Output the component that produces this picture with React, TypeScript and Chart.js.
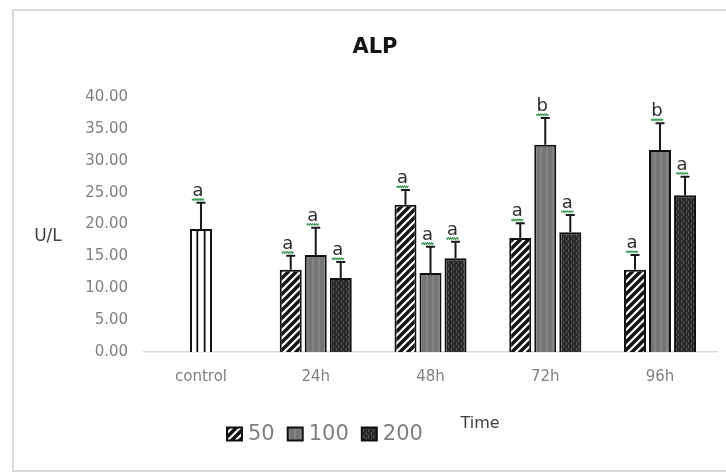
import React, { useEffect, useRef } from "react";
import { Chart, registerables } from "chart.js";

Chart.register(...registerables);

// Sampling times on the x axis
const categories = ["control", "24h", "48h", "72h", "96h"];
const seriesLabels = ["50", "100", "200"];

// ALP means (U/L) and standard deviations per dose group
const controlMean = [19.3, null, null, null, null];
const controlSd = [4.1, null, null, null, null];
const mean50 = [null, 12.9, 23.1, 17.9, 12.9];
const sd50 = [null, 2.2, 2.3, 2.3, 2.3];
const mean100 = [null, 15.2, 12.4, 32.5, 31.7];
const sd100 = [null, 4.3, 4.1, 4.2, 4.2];
const mean200 = [null, 11.6, 14.7, 18.8, 24.6];
const sd200 = [null, 2.5, 2.6, 2.7, 2.9];

// Significance letters above each bar
const controlLetters = ["a", "", "", "", ""];
const letters50 = ["", "a", "a", "a", "a"];
const letters100 = ["", "a", "a", "b", "b"];
const letters200 = ["", "a", "a", "a", "a"];

const yMin = 0;
const yMax = 40;
const yStep = 5;

const FONT = "'DejaVu Sans', sans-serif";

function makeTile(w: number, h: number, draw: (c: CanvasRenderingContext2D) => void): CanvasPattern {
  const cv = document.createElement("canvas");
  cv.width = w;
  cv.height = h;
  const c = cv.getContext("2d")!;
  draw(c);
  return c.createPattern(cv, "repeat")!;
}

function stripePattern() {
  return makeTile(8, 8, (c) => {
    c.fillStyle = "#ffffff";
    c.fillRect(0, 0, 8, 8);
    c.strokeStyle = "#111111";
    c.lineWidth = 3.4;
    c.beginPath();
    c.moveTo(-2, 10);
    c.lineTo(10, -2);
    c.moveTo(-2, 2);
    c.lineTo(2, -2);
    c.moveTo(6, 10);
    c.lineTo(10, 6);
    c.stroke();
  });
}

function greyPattern() {
  return makeTile(6, 4, (c) => {
    c.fillStyle = "#767676";
    c.fillRect(0, 0, 6, 4);
    c.fillStyle = "#848484";
    c.fillRect(0, 0, 2, 4);
  });
}

function darkPattern() {
  return makeTile(5, 6, (c) => {
    c.fillStyle = "#2a2a2a";
    c.fillRect(0, 0, 5, 6);
    c.fillStyle = "#525252";
    c.fillRect(1, 0, 1, 3);
    c.fillRect(3, 3, 1, 3);
  });
}

export default function App() {
  const ref = useRef<HTMLCanvasElement | null>(null);

  useEffect(() => {
    const canvas = ref.current;
    if (!canvas) return;

    const fill50 = stripePattern();
    const fill100 = greyPattern();
    const fill200 = darkPattern();

    const sds = [controlSd, sd50, sd100, sd200];
    const letterSets = [controlLetters, letters50, letters100, letters200];

    const decor = {
      id: "decor",
      beforeDraw(chart: any) {
        const ctx = chart.ctx;
        ctx.save();
        ctx.fillStyle = "#ffffff";
        ctx.fillRect(0, 0, chart.width, chart.height);
        ctx.strokeStyle = "#d9d9d9";
        ctx.lineWidth = 2;
        ctx.strokeRect(13, 10, chart.width + 20, 461);
        ctx.restore();
      },
      afterDatasetsDraw(chart: any) {
        const ctx = chart.ctx;
        const yScale = chart.scales.y;
        ctx.save();
        chart.data.datasets.forEach((ds: any, di: number) => {
          const meta = chart.getDatasetMeta(di);
          meta.data.forEach((el: any, j: number) => {
            const v = ds.data[j];
            if (v === null || v === undefined) return;
            const p = el.getProps(["x", "y", "base", "width"], true);
            // inner vertical rules of the control bar
            if (di === 0) {
              ctx.strokeStyle = "#111111";
              ctx.lineWidth = 1.8;
              ctx.beginPath();
              ctx.moveTo(p.x - p.width / 6, p.y);
              ctx.lineTo(p.x - p.width / 6, p.base);
              ctx.moveTo(p.x + p.width / 6, p.y);
              ctx.lineTo(p.x + p.width / 6, p.base);
              ctx.stroke();
            }
            const sd = sds[di][j];
            const top = yScale.getPixelForValue(v + (sd || 0));
            ctx.strokeStyle = "#1a1a1a";
            ctx.lineWidth = 2;
            ctx.beginPath();
            ctx.moveTo(p.x, p.y);
            ctx.lineTo(p.x, top);
            ctx.moveTo(p.x - 4.5, top);
            ctx.lineTo(p.x + 4.5, top);
            ctx.stroke();
            const letter = letterSets[di][j];
            if (letter) {
              const lx = p.x - 3;
              const base = top - 7;
              ctx.fillStyle = "#2e2e2e";
              ctx.font = `18px ${FONT}`;
              ctx.textAlign = "center";
              ctx.textBaseline = "alphabetic";
              ctx.fillText(letter, lx, base);
              // green wavy underline
              ctx.strokeStyle = "#3f9a57";
              ctx.lineWidth = 1.2;
              ctx.beginPath();
              for (let k = 0; k <= 12; k++) {
                const xx = lx - 6 + k;
                const yy = base + 3 + (k % 2 === 0 ? 0 : 1.4);
                if (k === 0) ctx.moveTo(xx, yy);
                else ctx.lineTo(xx, yy);
              }
              ctx.stroke();
            }
          });
        });
        ctx.restore();
      },
      afterDraw(chart: any) {
        const ctx = chart.ctx;
        ctx.save();
        // title
        ctx.fillStyle = "#141414";
        ctx.font = `bold 21px ${FONT}`;
        ctx.textAlign = "center";
        ctx.textBaseline = "middle";
        ctx.fillText("ALP", 375, 48);
        // axis titles
        ctx.fillStyle = "#404040";
        ctx.font = `17px ${FONT}`;
        ctx.fillText("U/L", 48, 237);
        ctx.font = `16px ${FONT}`;
        ctx.fillText("Time", 480, 424);
        // legend
        const fills = [fill50, fill100, fill200];
        let x = 227;
        const cy = 434;
        ctx.font = `21px ${FONT}`;
        ctx.textAlign = "left";
        seriesLabels.forEach((lab, i) => {
          ctx.fillStyle = fills[i];
          ctx.fillRect(x, cy - 6.5, 15, 13);
          ctx.strokeStyle = "#111111";
          ctx.lineWidth = 2;
          ctx.strokeRect(x, cy - 6.5, 15, 13);
          ctx.fillStyle = "#7f7f7f";
          ctx.fillText(lab, x + 21, cy + 1);
          x += 21 + ctx.measureText(lab).width + 13;
        });
        ctx.restore();
      },
    };

    const common = {
      borderColor: "#111111",
      borderWidth: 2,
      skipNull: true,
      categoryPercentage: 0.654,
      barPercentage: 0.88,
      maxBarThickness: 22,
    };

    const chart = new Chart(canvas, {
      type: "bar",
      data: {
        labels: categories,
        datasets: [
          { label: "control", data: controlMean, backgroundColor: "#ffffff", ...common },
          { label: seriesLabels[0], data: mean50, backgroundColor: fill50, ...common },
          { label: seriesLabels[1], data: mean100, backgroundColor: fill100, ...common },
          { label: seriesLabels[2], data: mean200, backgroundColor: fill200, ...common },
        ] as any,
      },
      options: {
        responsive: false,
        devicePixelRatio: 1,
        animation: false,
        layout: { padding: { left: 0, right: 8.6, top: 97, bottom: 0 } },
        plugins: {
          legend: { display: false },
          title: { display: false },
          tooltip: { enabled: false },
        },
        scales: {
          x: {
            grid: { display: false, drawTicks: false },
            border: { display: true, color: "#d9d9d9", width: 1.5 },
            ticks: {
              color: "#7f7f7f",
              font: { family: FONT, size: 15 },
              padding: 16,
            },
            afterFit(s: any) {
              s.height = 123;
            },
          },
          y: {
            min: yMin,
            max: yMax,
            grid: { display: false, drawTicks: false },
            border: { display: false },
            ticks: {
              stepSize: yStep,
              color: "#7f7f7f",
              font: { family: FONT, size: 15 },
              padding: 15.5,
              callback: (v: any) => Number(v).toFixed(2),
            },
            afterFit(s: any) {
              s.width = 143.6;
            },
          },
        },
      },
      plugins: [decor],
    });

    return () => chart.destroy();
  }, []);

  return (
    <div style={{ position: "fixed", left: 0, top: 0, width: 726, height: 475, background: "#fff" }}>
      <canvas ref={ref} width={726} height={475} style={{ display: "block" }} />
    </div>
  );
}
